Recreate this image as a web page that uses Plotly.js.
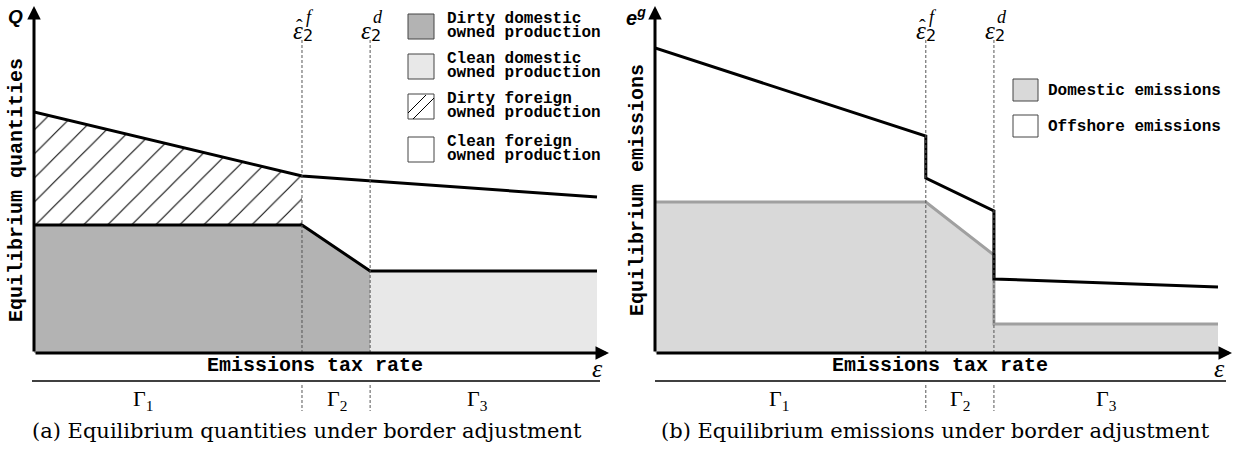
<!DOCTYPE html>
<html>
<head>
<meta charset="utf-8">
<script src="https://cdn.plot.ly/plotly-3.0.1.min.js"></script>
<style>html,body{margin:0;padding:0;background:#fff;}#chart{width:1240px;height:451px;}</style>
</head>
<body>
<div id="chart"></div>
<script>
// ---------- Data (panel a: quantities) ----------
const thresholdsA = [4.76, 5.97];           // eps-hat_2^f, eps_2^d
const totalQX = [0, 4.76, 10];
const totalQY = [24.1, 17.7, 15.6];
const domQX = [0, 4.76, 5.97, 10];
const domQY = [12.8, 12.8, 8.2, 8.2];
const dirtyDomX = [0, 4.76, 5.97];
const dirtyDomY = [12.8, 12.8, 8.2];
const cleanDomX = [5.97, 10];
const cleanDomY = [8.2, 8.2];
const dirtyForX = [0, 4.76, 4.76, 0];
const dirtyForY = [24.1, 17.7, 12.8, 12.8];

// ---------- Data (panel b: emissions) ----------
const thresholdsB = [4.81, 6.02];
const totalEX = [0, 4.81, 4.81, 6.02, 6.02, 10];
const totalEY = [30.5, 21.7, 17.5, 14.2, 7.4, 6.6];
const domEX = [0, 4.81, 6.02, 6.02, 10];
const domEY = [15.1, 15.1, 9.8, 2.9, 2.9];

// ---------- Text ----------
const legendA = [["Dirty domestic","owned production"],["Clean domestic","owned production"],["Dirty foreign","owned production"],["Clean foreign","owned production"]];
const legendB = ["Domestic emissions","Offshore emissions"];
const xTitle = "Emissions tax rate";
const yTitleA = "Equilibrium quantities";
const yTitleB = "Equilibrium emissions";
const captionA = "(a) Equilibrium quantities under border adjustment";
const captionB = "(b) Equilibrium emissions under border adjustment";
const gammaLabels = ["Γ<sub>1</sub>","Γ<sub>2</sub>","Γ<sub>3</sub>"];
const thresholdSups = ["f", "d"];

// ---------- Layout helpers ----------
const W = 1240, H = 451;
const px = v => v / W;
const py = v => 1 - v / H;
const MONO = "Liberation Mono, Courier New, monospace";
const SERIF = "Liberation Serif, Times New Roman, serif";
const CAPSERIF = "DejaVu Serif, serif";
const darkGrey = "#b3b3b3", lightGrey = "#e8e8e8", domEmis = "#d9d9d9";

const traces = [
  {x: dirtyDomX, y: dirtyDomY, xaxis:'x', yaxis:'y', mode:'lines', line:{width:0}, fill:'tozeroy', fillcolor: darkGrey, hoverinfo:'skip', showlegend:false},
  {x: cleanDomX, y: cleanDomY, xaxis:'x', yaxis:'y', mode:'lines', line:{width:0}, fill:'tozeroy', fillcolor: lightGrey, hoverinfo:'skip', showlegend:false},
  {x: dirtyForX, y: dirtyForY, xaxis:'x', yaxis:'y', mode:'lines', line:{width:0}, fill:'toself', fillcolor:'white',
   fillpattern:{shape:'/', fgcolor:'black', bgcolor:'white', size:17, solidity:0.06}, hoverinfo:'skip', showlegend:false},
  {x: totalQX, y: totalQY, xaxis:'x', yaxis:'y', mode:'lines', line:{color:'black', width:3}, showlegend:false},
  {x: domQX, y: domQY, xaxis:'x', yaxis:'y', mode:'lines', line:{color:'black', width:3}, showlegend:false},
  {x: domEX, y: domEY, xaxis:'x2', yaxis:'y2', mode:'lines', line:{color:'#a0a0a0', width:3}, fill:'tozeroy', fillcolor: domEmis, showlegend:false},
  {x: totalEX, y: totalEY, xaxis:'x2', yaxis:'y2', mode:'lines', line:{color:'black', width:3}, showlegend:false}
];

const xUnit = 56.3;
const yDom = [py(353), py(10)];
const yRange = [0, (353 - 10) / 10];
const axisCommon = {showgrid:false, zeroline:false, showline:false, showticklabels:false, ticks:'', fixedrange:true};

const shapes = [];
const annotations = [];

function dashedV(xref, xv, y0, y1) {
  shapes.push({type:'line', xref:xref, yref:'paper', x0:xv, x1:xv, y0:py(y0), y1:py(y1), line:{color:'#555', width:1, dash:'3px,2px'}});
}
thresholdsA.forEach(t => { dashedV('x', t, 353, 38); dashedV('x', t, 385, 411); });
thresholdsB.forEach(t => { dashedV('x2', t, 353, 38); dashedV('x2', t, 385, 411); });

shapes.push({type:'line', xref:'paper', yref:'paper', x0:px(32), x1:px(600), y0:py(381), y1:py(381), line:{color:'black', width:1.5}});
shapes.push({type:'line', xref:'paper', yref:'paper', x0:px(655), x1:px(1226), y0:py(381), y1:py(381), line:{color:'black', width:1.5}});

function arrow(x, y, ax, ay) {
  annotations.push({xref:'paper', yref:'paper', x:px(x), y:py(y), ax:ax, ay:ay, text:'', showarrow:true, arrowhead:2, arrowsize:0.9, arrowwidth:3, arrowcolor:'black', standoff:0});
}
arrow(34, 6, 0, 347);
arrow(609, 353, -575, 0);
arrow(655, 6, 0, 347);
arrow(1232, 353, -577, 0);

function txt(x, y, text, font, extra) {
  annotations.push(Object.assign({xref:'paper', yref:'paper', x:px(x), y:py(y), text:text, showarrow:false, font:font, xanchor:'center', yanchor:'middle'}, extra || {}));
}

// legend A
const legTopsA = [14, 54, 94, 137];
const legFillsA = [darkGrey, lightGrey, 'white', 'white'];
const legFont = {family:MONO, size:16, color:'black', weight:'bold'};
legTopsA.forEach((t, i) => {
  shapes.push({type:'rect', xref:'paper', yref:'paper', x0:px(408), x1:px(434), y0:py(t), y1:py(t+25), line:{color:'#444', width:1}, fillcolor:legFillsA[i]});
  txt(445, t+5, legendA[i][0], legFont, {xanchor:'left'});
  txt(445, t+19, legendA[i][1], legFont, {xanchor:'left'});
});
shapes.push({type:'line', xref:'paper', yref:'paper', x0:px(408), x1:px(426), y0:py(113), y1:py(95), line:{color:'black', width:1}});
shapes.push({type:'line', xref:'paper', yref:'paper', x0:px(413), x1:px(434), y0:py(119), y1:py(98), line:{color:'black', width:1}});

// legend B
const legTopsB = [79, 115];
const legFillsB = [domEmis, 'white'];
legTopsB.forEach((t, i) => {
  shapes.push({type:'rect', xref:'paper', yref:'paper', x0:px(1013), x1:px(1038), y0:py(t), y1:py(t+22), line:{color:'#444', width:1}, fillcolor:legFillsB[i]});
  txt(1046, t+12, legendB[i], legFont, {xanchor:'left'});
});

// threshold labels (stacked sub/superscripts)
const epsFont = {family:SERIF, size:25, color:'black', style:'italic'};
const subFont = {family:"DejaVu Sans, sans-serif", size:16, color:'black'};
const supFont = {family:SERIF, size:18, color:'black', style:'italic'};
function epsLabel(xe, hat, sup) {
  txt(xe, 30, 'ε', epsFont);
  if (hat) txt(xe + 1, 27, 'ˆ', {family:SERIF, size:20, color:'black'});
  txt(xe + 10, 35, '2', subFont);
  txt(xe + 12, 17, sup, supFont);
}
epsLabel(298, true, thresholdSups[0]);
epsLabel(366, false, thresholdSups[1]);
epsLabel(921, true, thresholdSups[0]);
epsLabel(990, false, thresholdSups[1]);

// axis titles
const titleFont = {family:MONO, size:20, color:'black', weight:'bold'};
txt(315, 365, xTitle, titleFont);
txt(940, 365, xTitle, titleFont);
txt(16, 190, yTitleA, titleFont, {textangle:-90});
txt(637, 190, yTitleB, titleFont, {textangle:-90});
txt(597, 368, 'ε', {family:SERIF, size:26, color:'black', style:'italic'});
txt(1219, 368, 'ε', {family:SERIF, size:26, color:'black', style:'italic'});
txt(15, 16, 'Q', {family:'Liberation Sans, Arial, sans-serif', size:19, color:'black', weight:'bold', style:'italic'});
txt(636, 16, 'e<sup>g</sup>', {family:'Liberation Sans, Arial, sans-serif', size:20, color:'black', weight:'bold', style:'italic'});

// gamma labels
const gFont = {family:SERIF, size:22, color:'black'};
[143, 337, 477].forEach((x, i) => txt(x, 400, gammaLabels[i], gFont));
[779, 960, 1106].forEach((x, i) => txt(x, 400, gammaLabels[i], gFont));

// captions
const capFont = {family:CAPSERIF, size:21, color:'black'};
txt(307, 431, captionA, capFont);
txt(935, 431, captionB, capFont);

const layout = {
  width: W, height: H,
  margin: {l:0, r:0, t:0, b:0},
  paper_bgcolor: 'white', plot_bgcolor: 'rgba(0,0,0,0)',
  showlegend: false,
  xaxis: Object.assign({domain:[px(34), px(609)], range:[0, (609-34)/xUnit], anchor:'y'}, axisCommon),
  yaxis: Object.assign({domain:yDom, range:yRange, anchor:'x'}, axisCommon),
  xaxis2: Object.assign({domain:[px(655), px(1232)], range:[0, (1232-655)/xUnit], anchor:'y2'}, axisCommon),
  yaxis2: Object.assign({domain:yDom, range:yRange, anchor:'x2'}, axisCommon),
  shapes: shapes,
  annotations: annotations
};

Plotly.newPlot('chart', traces, layout, {staticPlot:true, displayModeBar:false});
</script>
</body>
</html>
